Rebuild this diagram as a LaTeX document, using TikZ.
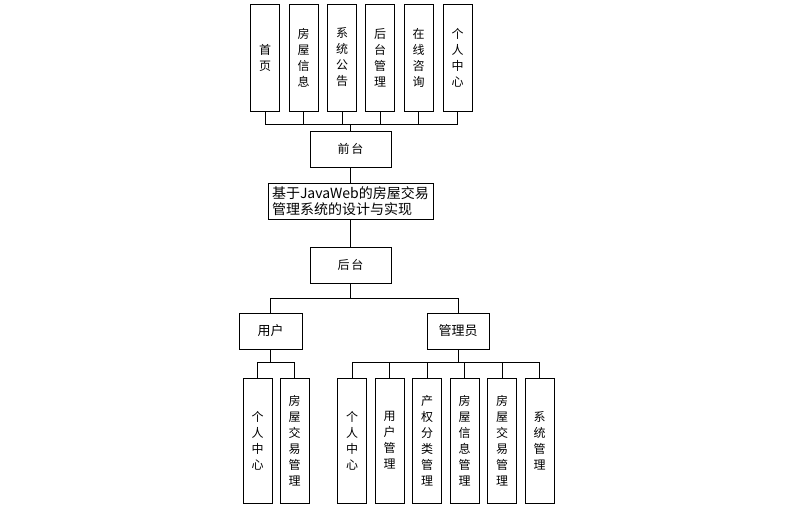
\documentclass[tikz,border=0pt]{standalone}
\usepackage{fontspec}
\newfontfamily\cjk{Noto Sans CJK SC}
\usetikzlibrary{positioning}

\tikzset{
	box/.style={draw, line width=0.8pt, fill=white, font=\cjk\fontsize{12}{16}\selectfont,
		minimum width=81pt, minimum height=36pt, inner sep=0pt},
	vbox/.style={draw, line width=0.8pt, fill=white, font=\cjk\fontsize{12}{16}\selectfont,
		text width=12pt, align=center, inner sep=0pt, minimum width=29pt},
	topbox/.style={vbox, minimum height=107pt},
	lowbox/.style={vbox, minimum height=125pt},
	link/.style={line width=0.8pt}
}

\begin{document}
\begin{tikzpicture}[x=1pt,y=-1pt]
	\useasboundingbox (0,0) rectangle (790,515);
	%
	%top boxes
	\node[topbox] (home)   at (265,57.5)   {首\\页};
	\node[topbox] (house)  at (303.5,57.5) {房\\屋\\信\\息};
	\node[topbox] (notice) at (342,57.5)   {系\\统\\公\\告};
	\node[topbox] (admin)  at (380,57.5)   {后\\台\\管\\理};
	\node[topbox] (ask)    at (418.5,57.5) {在\\线\\咨\\询};
	\node[topbox] (mine)   at (457.5,57.5) {个\\人\\中\\心};
	%
	%middle boxes
	\node[box] (front) at (350.5,149) {前\,台};
	\node[box, minimum width=165pt, align=left, text width=157pt,
		font=\cjk\fontsize{14}{16}\selectfont] (title) at (350.5,201)
		{基于JavaWeb的房屋交易\\管理系统的设计与实现};
	\node[box] (back) at (350.5,265) {后\,台};
	%
	\node[box, minimum width=63pt, font=\cjk\fontsize{13}{16}\selectfont] (user)    at (270.5,331) {用户};
	\node[box, minimum width=62pt, font=\cjk\fontsize{13}{16}\selectfont] (manager) at (458,331)   {管理员};
	%
	%bottom boxes
	\node[lowbox] (umine)  at (257.5,440.5) {个\\人\\中\\心};
	\node[lowbox] (utrade) at (294.5,440.5) {房\\屋\\交\\易\\管\\理};
	%
	\node[lowbox] (amine)  at (352,440.5)   {个\\人\\中\\心};
	\node[lowbox] (auser)  at (389.5,440.5) {用\\户\\管\\理};
	\node[lowbox] (aright) at (427,440.5)   {产\\权\\分\\类\\管\\理};
	\node[lowbox] (ahouse) at (464.5,440.5) {房\\屋\\信\\息\\管\\理};
	\node[lowbox] (atrade) at (502,440.5)   {房\\屋\\交\\易\\管\\理};
	\node[lowbox] (asys)   at (539.5,440.5) {系\\统\\管\\理};
	%
	\coordinate (topbus)  at (350.5,124);
	\coordinate (backbus) at (350.5,298);
	\coordinate (userbus) at (270.5,362);
	\coordinate (mgrbus)  at (458,362);
	%
	%top lines
	\draw[link] (home.south)   |- (topbus);
	\draw[link] (house.south)  |- (topbus);
	\draw[link] (notice.south) |- (topbus);
	\draw[link] (admin.south)  |- (topbus);
	\draw[link] (ask.south)    |- (topbus);
	\draw[link] (mine.south)   |- (topbus);
	\draw[link] (topbus) -- (front.north);
	%
	%middle lines
	\draw[link] (front.south) -- (title.north);
	\draw[link] (title.south) -- (back.north);
	\draw[link] (back.south) -- (backbus);
	\draw[link] (user.north)    |- (backbus);
	\draw[link] (manager.north) |- (backbus);
	%
	%bottom lines
	\draw[link] (user.south) -- (userbus);
	\draw[link] (umine.north)  |- (userbus);
	\draw[link] (utrade.north) |- (userbus);
	%
	\draw[link] (manager.south) -- (mgrbus);
	\draw[link] (amine.north)  |- (mgrbus);
	\draw[link] (auser.north)  |- (mgrbus);
	\draw[link] (aright.north) |- (mgrbus);
	\draw[link] (ahouse.north) |- (mgrbus);
	\draw[link] (atrade.north) |- (mgrbus);
	\draw[link] (asys.north)   |- (mgrbus);
\end{tikzpicture}
\end{document}
